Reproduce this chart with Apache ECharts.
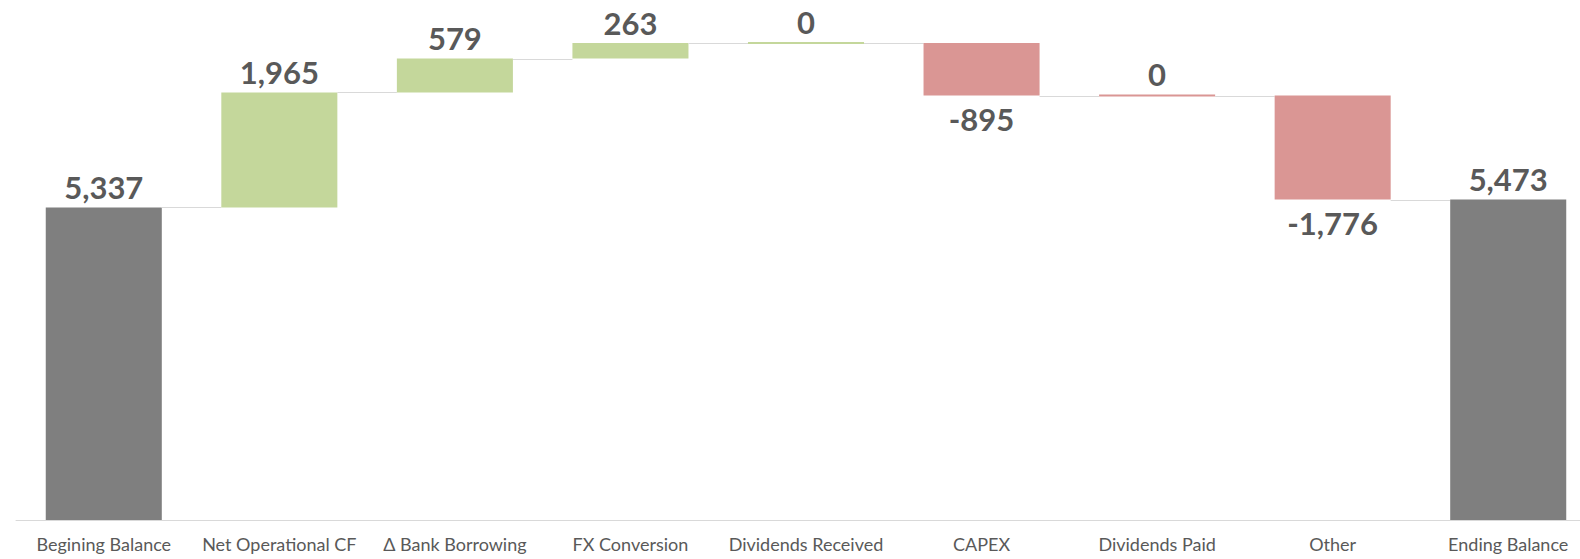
<!DOCTYPE html>
<html>
<head>
<meta charset="utf-8">
<script src="https://cdn.jsdelivr.net/npm/echarts@6/dist/echarts.min.js"></script>
<style>
html,body{margin:0;padding:0;background:#fff;overflow:hidden;width:1580px;height:559px;}
#chart{width:1600px;height:559px;}
</style>
</head>
<body>
<div id="chart"></div>
<script>
const categories = ["Begining Balance", "Net Operational CF", "\u0394 Bank Borrowing", "FX Conversion", "Dividends Received", "CAPEX", "Dividends Paid", "Other", "Ending Balance"];
const values = [5337, 1965, 579, 263, 0, -895, 0, -1776, 5473];
const kinds = ["total", "up", "up", "up", "up", "down", "down", "down", "total"];
const yMin = 0;
const yMax = 8880;

const colors = { total: '#7f7f7f', up: '#c4d79b', down: '#da9694', connector: '#d9d9d9', label: '#595959' };

// build waterfall items [index, start, end, value]
const items = [];
let running = 0;
values.forEach((v, i) => {
  let s, e;
  if (kinds[i] === 'total') { s = 0; e = v; running = v; }
  else { s = running; e = running + v; running = e; }
  items.push([i, s, e, v]);
});

function fmt(v) {
  const a = Math.abs(v).toLocaleString('en-US');
  return v < 0 ? '-' + a : a;
}

const chart = echarts.init(document.getElementById('chart'), null, { renderer: 'svg' });
chart.setOption({
  animation: false,
  backgroundColor: '#fff',
  grid: { left: 16, width: 1580, top: 0, bottom: 39, containLabel: false },
  xAxis: {
    type: 'category',
    data: categories,
    axisLine: { show: true, lineStyle: { color: '#d9d9d9', width: 1 } },
    axisTick: { show: false },
    axisLabel: { color: '#595959', fontFamily: 'Lato', fontSize: 18, margin: 15, interval: 0 },
    splitLine: { show: false }
  },
  yAxis: {
    type: 'value', min: yMin, max: yMax, show: false,
    splitLine: { show: false }
  },
  series: [{
    type: 'custom',
    data: items,
    encode: { x: 0, y: [1, 2] },
    renderItem: function (params, api) {
      const i = api.value(0), s = api.value(1), e = api.value(2), v = api.value(3);
      const p0 = api.coord([i, s]);
      const p1 = api.coord([i, e]);
      const w = api.size([1, 0])[0] * 0.661;
      let top = Math.min(p0[1], p1[1]);
      let h = Math.abs(p0[1] - p1[1]);
      if (h < 2) { h = 2; top = p1[1] - 1; }
      const color = colors[kinds[i]];
      const children = [{
        type: 'rect',
        shape: { x: p0[0] - w / 2, y: top, width: w, height: h },
        style: { fill: color }
      }];
      const neg = v < 0;
      const labelY = neg ? Math.max(p0[1], p1[1]) + 8 : top - 5;
      children.push({
        type: 'text',
        style: {
          text: fmt(v), x: p0[0], y: labelY,
          textAlign: 'center', textVerticalAlign: neg ? 'top' : 'bottom',
          font: 'bold 31px Lato', fill: colors.label
        }
      });
      if (i < values.length - 1) {
        const pn = api.coord([i + 1, e]);
        const ly = Math.round(p1[1]) + 0.5;
        children.push({
          type: 'line',
          shape: { x1: p1[0] + w / 2, y1: ly, x2: pn[0] - w / 2, y2: ly },
          style: { stroke: colors.connector, lineWidth: 1 }
        });
      }
      return { type: 'group', children: children };
    }
  }]
});
</script>
</body>
</html>
